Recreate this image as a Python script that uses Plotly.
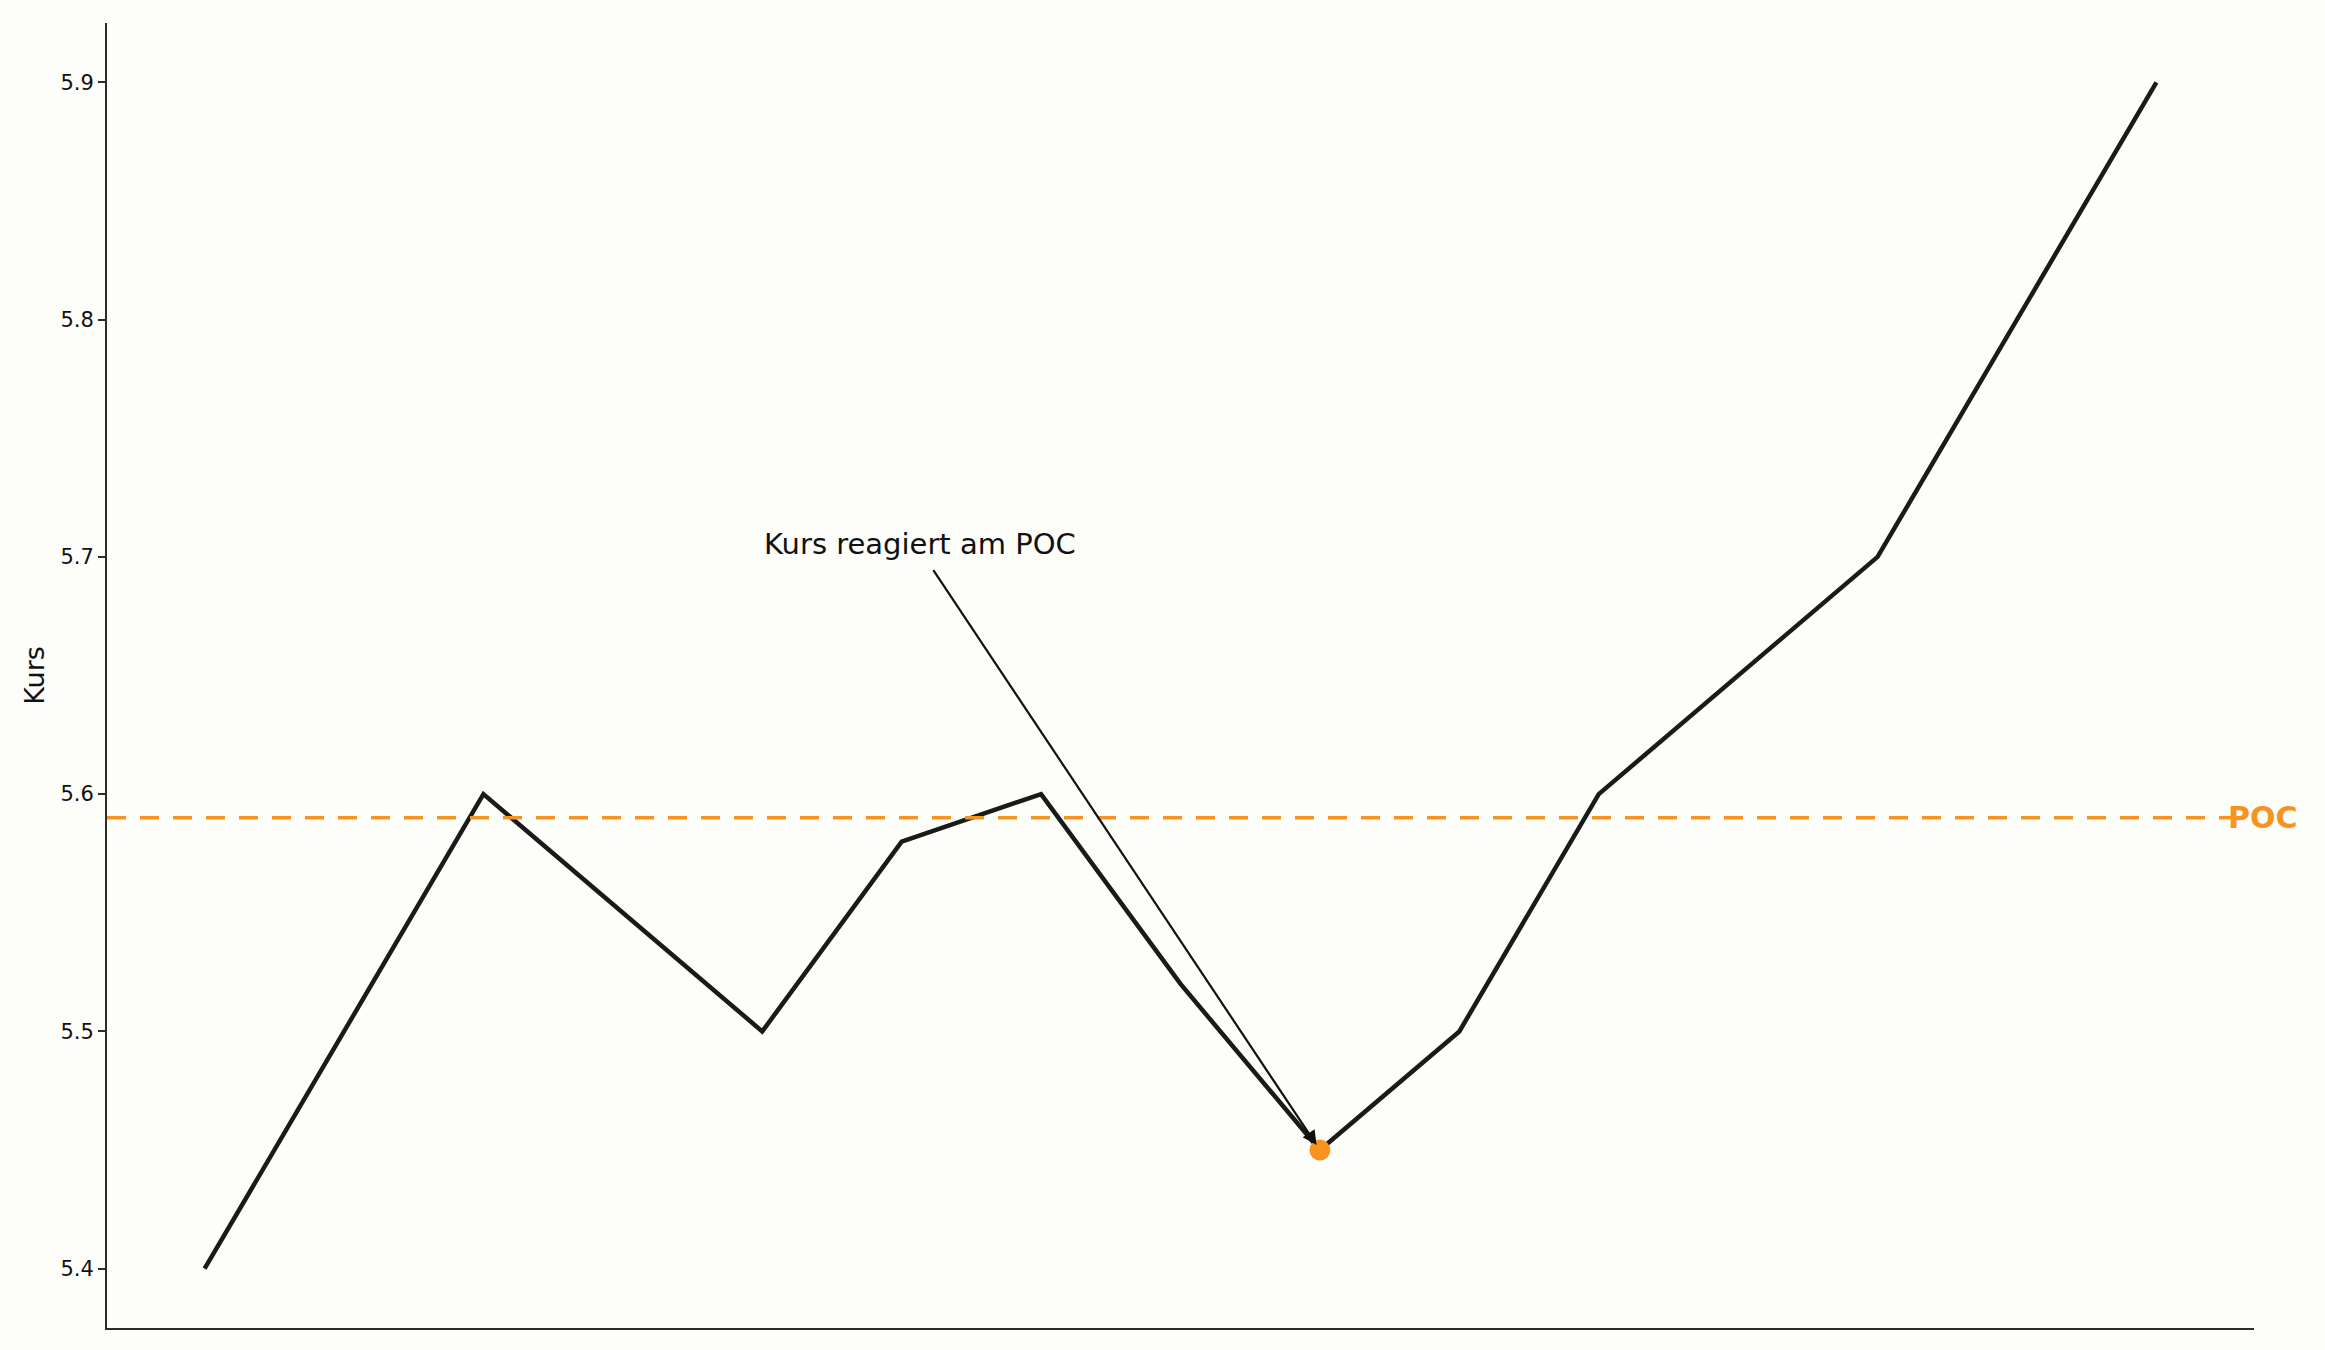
import plotly.graph_objects as go

# Kursverlauf (x = Zeitindex)
zeit = [0, 2, 4, 5, 6, 7, 8, 9, 10, 12, 14]
kurs = [5.40, 5.60, 5.50, 5.58, 5.60, 5.52, 5.45, 5.50, 5.60, 5.70, 5.90]

poc = 5.59
reaktion_x = [8]
reaktion_y = [5.45]
y_ticks = [5.4, 5.5, 5.6, 5.7, 5.8, 5.9]

orange = "#F7931E"
bg = "#FDFDF9"

fig = go.Figure()

fig.add_trace(go.Scatter(
    x=zeit, y=kurs, mode="lines",
    line=dict(color="#1a1a1a", width=4.5),
    showlegend=False, hoverinfo="skip",
))

# POC-Linie über die ganze Breite
fig.add_trace(go.Scatter(
    x=[-0.7, 14.7], y=[poc, poc], mode="lines",
    line=dict(color=orange, width=3.5, dash="19px,14px"),
    showlegend=False, hoverinfo="skip",
))

fig.add_trace(go.Scatter(
    x=reaktion_x, y=reaktion_y, mode="markers",
    marker=dict(color=orange, size=21),
    showlegend=False, hoverinfo="skip",
))

# POC Beschriftung
fig.add_annotation(
    x=14.5, y=poc, text="<b>POC</b>", showarrow=False,
    xanchor="left", yanchor="middle",
    font=dict(family="DejaVu Sans", size=30, color=orange),
)

# Annotation Text + Pfeil
fig.add_annotation(
    x=4, y=5.70, text="Kurs reagiert am POC", showarrow=False,
    xanchor="left", yanchor="bottom", yshift=-6,
    font=dict(family="DejaVu Sans", size=29, color="#111111"),
)
fig.add_annotation(
    x=reaktion_x[0], y=reaktion_y[0], text="",
    showarrow=True, axref="x", ayref="y", ax=5.22, ay=5.695,
    arrowhead=2, arrowsize=1.3, arrowwidth=2.2, arrowcolor="#111111",
    standoff=6,
)

fig.update_layout(
    width=2325, height=1350,
    paper_bgcolor=bg, plot_bgcolor=bg,
    margin=dict(l=107, r=71, t=23, b=22),
    font=dict(family="DejaVu Sans", color="#111111"),
    xaxis=dict(
        range=[-0.7, 14.7], showgrid=False, zeroline=False,
        showticklabels=False, ticks="",
        showline=True, linecolor="#2b2b2b", linewidth=2,
    ),
    yaxis=dict(
        range=[5.375, 5.925], showgrid=False, zeroline=False,
        tickvals=y_ticks, ticktext=[f"{v:.1f}" for v in y_ticks],
        ticks="outside", ticklen=7, tickwidth=2, tickcolor="#2b2b2b",
        tickfont=dict(size=21, color="#111111"),
        showline=True, linecolor="#2b2b2b", linewidth=2,
        title=dict(text="Kurs", font=dict(size=27, color="#111111"), standoff=8),
    ),
)

fig.write_html(
    "out.html",
    config={"displayModeBar": False},
    post_script="document.body.style.margin='0';document.body.style.background='" + bg + "';",
)
